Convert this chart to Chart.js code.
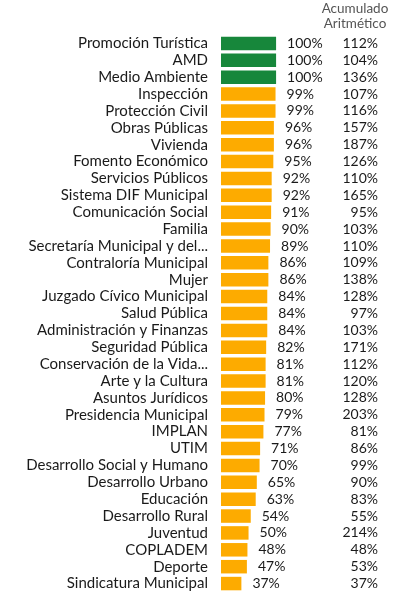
<!DOCTYPE html>
<html>
<head>
<meta charset="utf-8">
<script src="https://cdn.jsdelivr.net/npm/chart.js@4"></script>
<style>
  html, body { margin: 0; padding: 0; background: #fff; }
  #wrap { width: 398px; height: 596px; position: relative; }
</style>
</head>
<body>
<div id="wrap"><canvas id="avanceChart"></canvas></div>
<script>
const areas = [
    'Promoción Turística', 'AMD', 'Medio Ambiente', 'Inspección', 'Protección Civil',
    'Obras Públicas', 'Vivienda', 'Fomento Económico', 'Servicios Públicos',
    'Sistema DIF Municipal', 'Comunicación Social', 'Familia',
    'Secretaría Municipal y del...', 'Contraloría Municipal', 'Mujer',
    'Juzgado Cívico Municipal', 'Salud Pública', 'Administración y Finanzas',
    'Seguridad Pública', 'Conservación de la Vida...', 'Arte y la Cultura',
    'Asuntos Jurídicos', 'Presidencia Municipal', 'IMPLAN', 'UTIM',
    'Desarrollo Social y Humano', 'Desarrollo Urbano', 'Educación',
    'Desarrollo Rural', 'Juventud', 'COPLADEM', 'Deporte', 'Sindicatura Municipal'
];
const avance = [100, 100, 100, 99, 99, 96, 96, 95, 92, 92, 91, 90, 89, 86, 86, 84, 84, 84,
    82, 81, 81, 80, 79, 77, 71, 70, 65, 63, 54, 50, 48, 47, 37];
const acumulado = [112, 104, 136, 107, 116, 157, 187, 126, 110, 165, 95, 103, 110, 109, 138,
    128, 97, 103, 171, 112, 120, 128, 203, 81, 86, 99, 90, 83, 55, 214, 48, 53, 37];
const headerLines = ['Acumulado', 'Aritmético'];

const GREEN = '#17873b';
const ORANGE = '#fdab00';
const FONT = 'Lato, "Open Sans", sans-serif';

// percent labels + accumulated column + header
const valueLabels = {
    id: 'valueLabels',
    afterDatasetsDraw(chart) {
        const ctx = chart.ctx;
        const meta = chart.getDatasetMeta(0);
        const right = chart.chartArea.right;
        ctx.save();
        ctx.fillStyle = '#1a1a1a';
        ctx.font = '14px ' + FONT;
        ctx.textBaseline = 'middle';
        meta.data.forEach((bar, i) => {
            ctx.textAlign = 'left';
            ctx.fillText(avance[i] + '%', bar.x + 11, bar.y);
            ctx.textAlign = 'right';
            ctx.fillText(acumulado[i] + '%', right, bar.y);
        });
        ctx.fillStyle = '#555';
        ctx.font = '13.5px ' + FONT;
        ctx.textAlign = 'center';
        ctx.fillText(headerLines[0], 355, 9);
        ctx.fillText(headerLines[1], 355, 24);
        ctx.restore();
    }
};

new Chart(document.getElementById('avanceChart'), {
    type: 'bar',
    data: {
        labels: areas,
        datasets: [{
            data: avance,
            backgroundColor: avance.map(v => v >= 100 ? GREEN : ORANGE),
            barPercentage: 0.8,
            categoryPercentage: 1
        }]
    },
    options: {
        indexAxis: 'y',
        responsive: true,
        maintainAspectRatio: false,
        animation: false,
        layout: { padding: { top: 35, bottom: 4, right: 20, left: 0 } },
        plugins: { legend: { display: false }, tooltip: { enabled: false } },
        scales: {
            x: { display: false, min: 0, max: 285 },
            y: {
                grid: { display: false },
                border: { display: false },
                ticks: { color: '#1a1a1a', padding: 5, autoSkip: false, font: { size: 15, family: FONT } },
                afterFit: (scale) => {
                    scale.width = 221;
                    scale.paddingTop = 0;
                    scale.paddingBottom = 0;
                }
            }
        }
    },
    plugins: [valueLabels]
});
</script>
</body>
</html>
